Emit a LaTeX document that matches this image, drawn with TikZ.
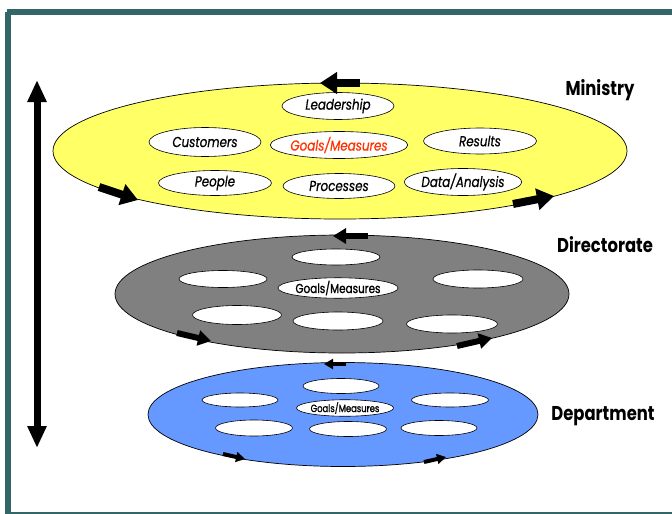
\documentclass[tikz,border=0pt]{standalone}
\usepackage{fontspec}
\setmainfont{Poppins}
\newfontfamily\labfont[FakeStretch=0.82,FakeBold=0.6]{Poppins}
\newfontfamily\smallfont[FakeStretch=0.8,FakeBold=1.2]{Poppins}
\newfontfamily\lvlfont[FakeStretch=0.82]{Poppins}
\usetikzlibrary{shapes.geometric,arrows.meta}
\definecolor{frame}{HTML}{336666}
\definecolor{minyellow}{HTML}{FFFF66}
\definecolor{dirgray}{HTML}{808080}
\definecolor{depblue}{HTML}{6699FF}
\definecolor{goalred}{HTML}{FF3300}
\tikzset{
  plate/.style={ellipse,draw=black,line width=0.7pt,inner sep=0pt},
  hole/.style={ellipse,draw=black,fill=white,line width=0.6pt,inner sep=0pt},
  bigtxt/.style={font=\labfont\itshape\fontsize{14.5}{16}\selectfont},
  lvl/.style={font=\lvlfont\bfseries\fontsize{20}{22}\selectfont},
  arrA/.style={line width=8pt,-{Triangle[length=17pt,width=21pt]}},
  arrB/.style={line width=6pt,-{Triangle[length=13pt,width=15pt]}},
  arrC/.style={line width=4pt,-{Triangle[length=9pt,width=10pt]}},
}
\begin{document}
\begin{tikzpicture}[x=1pt,y=-1pt]
\useasboundingbox (0,0) rectangle (672,514);
% frame
\fill[frame] (7,9) rectangle (672,15);
\fill[frame] (5,12) rectangle (11,514);
\fill[frame] (5,512) rectangle (672,514);

% vertical double arrow
\coordinate (vtop) at (37,80);
\coordinate (vbot) at (37,448);
\draw[line width=7pt,{Triangle[length=22pt,width=18pt]}-{Triangle[length=22pt,width=18pt]}] (vtop) -- (vbot);

% Ministry
\node[plate,fill=minyellow,minimum width=574pt,minimum height=136pt] (min) at (340,151) {};
\node[hole,minimum width=112pt,minimum height=27pt,bigtxt] (lead) at (338,106) {Leadership};
\node[hole,minimum width=112pt,minimum height=29pt,bigtxt] (cust) at (205,142) {Customers};
\node[hole,minimum width=112pt,minimum height=27pt,bigtxt,text=goalred] (goal) at (339,145) {Goals/Measures};
\node[hole,minimum width=113pt,minimum height=26pt,bigtxt] (res) at (480,141) {Results};
\node[hole,minimum width=113pt,minimum height=25pt,bigtxt] (peop) at (215,183) {People};
\node[hole,minimum width=112pt,minimum height=25pt,bigtxt] (proc) at (339,186) {Processes};
\node[hole,minimum width=112pt,minimum height=27pt,bigtxt] (data) at (463,182) {Data/Analysis};
\node[lvl] (minl) at (600,90) {Ministry};
\coordinate (m1s) at (360,83); \coordinate (m1e) at (320,83);
\coordinate (m2s) at (99,187); \coordinate (m2e) at (138,200);
\coordinate (m3s) at (513,204); \coordinate (m3e) at (554,196);
\draw[arrA] (m1s) -- (m1e);
\draw[arrA] (m2s) -- (m2e);
\draw[arrA] (m3s) -- (m3e);

% Directorate
\node[plate,fill=dirgray,minimum width=454pt,minimum height=118pt] (dir) at (342,294) {};
\node[hole,minimum width=88pt,minimum height=16pt] (d1) at (336,257) {};
\node[hole,minimum width=88pt,minimum height=17pt] (d2) at (223,279) {};
\node[hole,minimum width=90pt,minimum height=18pt] (d3) at (478,279) {};
\node[hole,minimum width=92pt,minimum height=17pt,font=\smallfont\fontsize{13}{14}\selectfont] (d4) at (338,288) {Goals/Measures};
\node[hole,minimum width=89pt,minimum height=19pt] (d5) at (237,315) {};
\node[hole,minimum width=90pt,minimum height=18pt] (d6) at (338,321) {};
\node[hole,minimum width=91pt,minimum height=18pt] (d7) at (452,324) {};
\node[lvl] (dirl) at (605,245) {Directorate};
\coordinate (d1s) at (368,236); \coordinate (d1e) at (333,236);
\coordinate (d2s) at (177,333); \coordinate (d2e) at (211,341);
\coordinate (d3s) at (457,346); \coordinate (d3e) at (492,338);
\draw[arrB] (d1s) -- (d1e);
\draw[arrB] (d2s) -- (d2e);
\draw[arrB] (d3s) -- (d3e);

% Department
\node[plate,fill=depblue,minimum width=390pt,minimum height=104pt] (dep) at (343,414.5) {};
\node[hole,minimum width=76pt,minimum height=15pt] (p1) at (341,386) {};
\node[hole,minimum width=76pt,minimum height=14pt] (p2) at (240,400) {};
\node[hole,minimum width=77pt,minimum height=14pt] (p3) at (450,400) {};
\node[hole,minimum width=78pt,minimum height=13pt,font=\smallfont\fontsize{10.5}{11}\selectfont] (p4) at (345,408) {Goals/Measures};
\node[hole,minimum width=77pt,minimum height=16pt] (p5) at (254,428) {};
\node[hole,minimum width=77pt,minimum height=15pt] (p6) at (348,429) {};
\node[hole,minimum width=76pt,minimum height=15pt] (p7) at (439,428) {};
\node[lvl] (depl) at (603,416) {Department};
\coordinate (p1s) at (346,364); \coordinate (p1e) at (324,364);
\coordinate (p2s) at (223,454); \coordinate (p2e) at (245,459);
\coordinate (p3s) at (424,462); \coordinate (p3e) at (446,457);
\draw[arrC] (p1s) -- (p1e);
\draw[arrC] (p2s) -- (p2e);
\draw[arrC] (p3s) -- (p3e);
\end{tikzpicture}
\end{document}
